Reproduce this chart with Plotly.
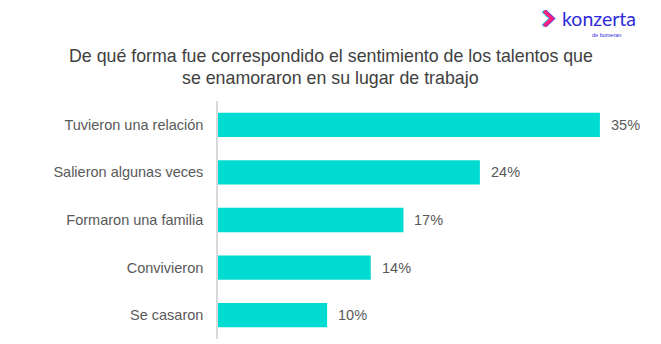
import plotly.graph_objects as go

# Survey answers and their shares (%)
categories = [
    "Tuvieron una relación",
    "Salieron algunas veces",
    "Formaron una familia",
    "Convivieron",
    "Se casaron",
]
values = [35, 24, 17, 14, 10]
value_labels = ["35%", "24%", "17%", "14%", "10%"]

title_lines = [
    "De qué forma fue correspondido el sentimiento de los talentos que",
    "se enamoraron en su lugar de trabajo",
]

W, H = 661, 344
ML, MR, MT, MB = 218, 0, 101, 5

BAR = "#00DCD2"
TXT = "#595959"

pw = W - ML - MR
ph = H - MT - MB


def px(xp):
    # figure pixel x -> paper fraction
    return (xp - ML) / pw


def py(yp):
    # figure pixel y (from top) -> paper fraction
    return (H - MB - yp) / ph


fig = go.Figure()
fig.add_trace(go.Bar(
    x=values,
    y=categories,
    orientation="h",
    width=0.51,
    marker=dict(color=BAR, line=dict(width=0)),
    hoverinfo="skip",
))

# value labels just past the end of each bar
for cat, v, lab in zip(categories, values, value_labels):
    fig.add_annotation(
        x=v, y=cat, xref="x", yref="y", text=lab, showarrow=False,
        xanchor="left", yanchor="middle", xshift=9,
        font=dict(family="Liberation Sans, Arial", size=14.5, color=TXT),
    )

# two-line heading
for line, yy in zip(title_lines, [56, 78]):
    fig.add_annotation(
        x=px(330.5), y=py(yy), xref="paper", yref="paper",
        xanchor="center", yanchor="middle", showarrow=False,
        text=line,
        font=dict(family="Liberation Sans, Arial", size=17.8, color="#404040"),
    )


def chevron(dx, color, width):
    pts = [(544 + dx, 11), (552 + dx, 18.5), (544 + dx, 26)]
    path = "M {} {} L {} {} L {} {}".format(
        px(pts[0][0]), py(pts[0][1]), px(pts[1][0]), py(pts[1][1]),
        px(pts[2][0]), py(pts[2][1]))
    fig.add_shape(type="path", path=path, xref="paper", yref="paper",
                  line=dict(color=color, width=width), layer="above")


# brand mark top right
chevron(-1.2, "#22D3EE", 3.6)
chevron(1.0, "#4B3BE0", 3.6)
chevron(0, "#FF1F7A", 3.4)

fig.add_annotation(
    x=px(560), y=py(19), xref="paper", yref="paper",
    xanchor="left", yanchor="middle", showarrow=False,
    text="konzerta",
    font=dict(family="Lato, Liberation Sans", size=19.5, color="#2F2BDA"),
)
fig.add_annotation(
    x=px(623), y=py(35), xref="paper", yref="paper",
    xanchor="right", yanchor="middle", showarrow=False,
    text="de bumeran",
    font=dict(family="Liberation Sans, Arial", size=5.5, color="#2F2BDA"),
)

fig.update_layout(
    width=W, height=H,
    margin=dict(l=ML, r=MR, t=MT, b=MB),
    paper_bgcolor="white", plot_bgcolor="white",
    showlegend=False,
    xaxis=dict(range=[0, 40.6], visible=False, fixedrange=True),
    yaxis=dict(
        categoryorder="array", categoryarray=categories, autorange="reversed",
        showline=True, linecolor="#D9D9D9", linewidth=1.5,
        showgrid=False, zeroline=False, ticks="",
        ticklabelstandoff=10,
        tickfont=dict(family="Liberation Sans, Arial", size=14.5, color=TXT),
        fixedrange=True,
    ),
)

fig.write_html("out.html")
